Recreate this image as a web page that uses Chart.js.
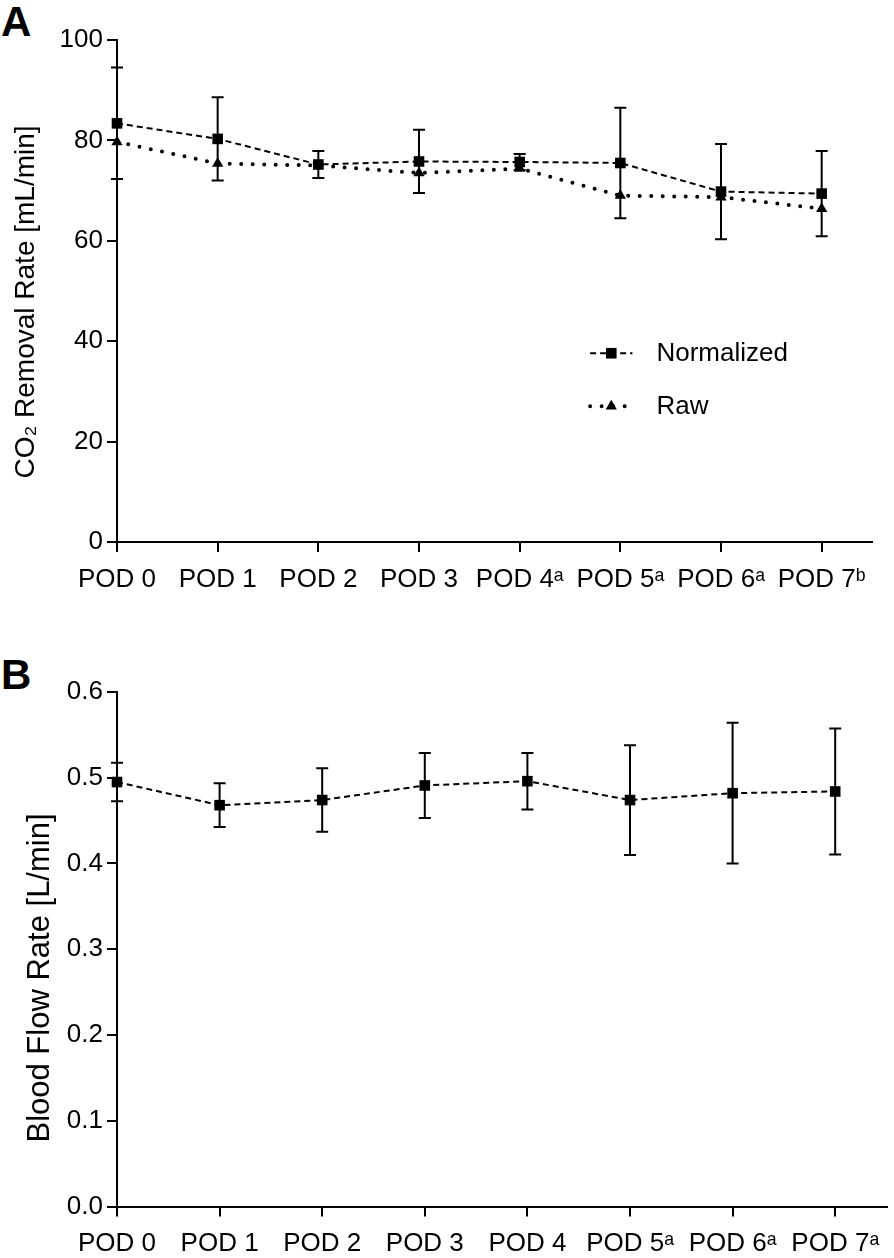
<!DOCTYPE html>
<html>
<head>
<meta charset="utf-8">
<script src="https://cdn.jsdelivr.net/npm/chart.js@4.4.1/dist/chart.umd.min.js"></script>
<style>
  html, body { margin: 0; padding: 0; background: #fff; }
  body { width: 894px; height: 1258px; position: relative; overflow: hidden; font-family: "Liberation Sans", Arial, sans-serif; }
  .panel { position: absolute; left: 0; }
  .letter { position: absolute; font-family: "Liberation Sans", Arial, sans-serif; font-weight: bold; font-size: 42px; line-height: 1; color: #000; }
</style>
</head>
<body>
<div class="letter" style="left:1px; top:1px;">A</div>
<div class="letter" style="left:1px; top:654px;">B</div>
<canvas id="chartA" class="panel" style="top:0px;" width="894" height="600"></canvas>
<canvas id="chartB" class="panel" style="top:630px;" width="894" height="628"></canvas>
<script>
// ---------- Data ----------
const categoriesA = ['POD 0', 'POD 1', 'POD 2', 'POD 3', 'POD 4\u1D43', 'POD 5\u1D43', 'POD 6\u1D43', 'POD 7\u1D47'];
const normalizedA = [83.4, 80.3, 75.2, 75.8, 75.7, 75.5, 69.8, 69.4];
const normalizedErrA = [11.1, 8.3, 2.7, 6.3, 1.6, 11.0, 9.5, 8.5];
const rawA = [79.7, 75.4, 75.0, 73.5, 74.4, 69.0, 68.7, 66.4];
const yTicksA = [0, 20, 40, 60, 80, 100];

const categoriesB = ['POD 0', 'POD 1', 'POD 2', 'POD 3', 'POD 4', 'POD 5\u1D43', 'POD 6\u1D43', 'POD 7\u1D43'];
const flowB = [0.495, 0.468, 0.474, 0.491, 0.496, 0.474, 0.482, 0.484];
const flowErrB = [0.0225, 0.0255, 0.037, 0.038, 0.033, 0.064, 0.082, 0.0735];
const yTicksB = [0.0, 0.1, 0.2, 0.3, 0.4, 0.5, 0.6];

// ---------- Styling ----------
const FONT = '"Liberation Sans", Arial, Helvetica, sans-serif';
const INK = '#000';

const toPoints = (vals) => vals.map((v, i) => ({ x: i, y: v }));

// Error bar plugin: draws vertical bars with caps from dataset errors via scales
const errorBarPlugin = {
  id: 'errorBars',
  beforeDatasetsDraw(chart) {
    const ctx = chart.ctx;
    const xs = chart.scales.x, ys = chart.scales.y;
    chart.data.datasets.forEach((ds) => {
      if (!ds.errors) return;
      ctx.save();
      ctx.strokeStyle = INK;
      ctx.lineWidth = 2;
      ctx.setLineDash([]);
      ds.data.forEach((p, i) => {
        const e = ds.errors[i];
        const px = xs.getPixelForValue(p.x);
        const yTop = ys.getPixelForValue(p.y + e);
        const yBot = ys.getPixelForValue(p.y - e);
        const cap = 6;
        ctx.beginPath();
        ctx.moveTo(px, yTop); ctx.lineTo(px, yBot);
        ctx.moveTo(px - cap, yTop); ctx.lineTo(px + cap, yTop);
        ctx.moveTo(px - cap, yBot); ctx.lineTo(px + cap, yBot);
        ctx.stroke();
      });
      ctx.restore();
    });
  }
};

// Rotated y-axis title drawn at a given baseline x and centre y
const yTitlePlugin = {
  id: 'yTitle',
  afterDraw(chart, args, opts) {
    if (!opts || !opts.text) return;
    const ctx = chart.ctx;
    ctx.save();
    ctx.translate(opts.x, opts.y);
    ctx.rotate(-Math.PI / 2);
    ctx.fillStyle = INK;
    ctx.font = opts.size + 'px ' + FONT;
    ctx.textAlign = 'center';
    ctx.textBaseline = 'alphabetic';
    ctx.fillText(opts.text, 0, 0);
    ctx.restore();
  }
};

// Custom in-plot legend (line sample + marker + text)
const legendPlugin = {
  id: 'inPlotLegend',
  afterDatasetsDraw(chart, args, opts) {
    if (!opts || !opts.items) return;
    const ctx = chart.ctx;
    const xs = chart.scales.x, ys = chart.scales.y;
    opts.items.forEach((it, k) => {
      const ds = chart.data.datasets[it.dataset];
      const x0 = xs.getPixelForValue(opts.x0);
      const x1 = xs.getPixelForValue(opts.x1);
      const y = ys.getPixelForValue(opts.y0) + k * opts.gap;
      ctx.save();
      ctx.strokeStyle = INK;
      ctx.lineWidth = ds.borderWidth;
      ctx.lineCap = ds.borderCapStyle || 'butt';
      ctx.setLineDash(ds.borderDash || []);
      ctx.beginPath();
      ctx.moveTo(x0, y); ctx.lineTo(x1, y);
      ctx.stroke();
      ctx.setLineDash([]);
      Chart.helpers.drawPoint(ctx, {
        pointStyle: ds.pointStyle, radius: ds.pointRadius, borderWidth: 0, rotation: 0
      }, (x0 + x1) / 2, y);
      ctx.fillStyle = INK;
      ctx.font = '26px ' + FONT;
      ctx.textBaseline = 'middle';
      ctx.textAlign = 'left';
      ctx.fillText(ds.label, x1 + 24, y + 1);
      ctx.restore();
    });
  }
};

function axisCommon() {
  return {
    border: { display: true, color: INK, width: 2 },
    grid: { display: true, drawOnChartArea: false, drawTicks: true, tickLength: 10, color: INK, lineWidth: 2, tickWidth: 2, tickColor: INK },
  };
}

function makeChart(id, cfg) {
  const xAxis = Object.assign(axisCommon(), {
    type: 'linear', min: 0, max: 7.5,
    afterBuildTicks: (s) => { s.ticks = cfg.categories.map((_, i) => ({ value: i })); },
    afterFit: (s) => { s.height = 50; },
    ticks: {
      autoSkip: false, maxRotation: 0, minRotation: 0, color: INK, padding: cfg.xPad,
      font: { family: FONT, size: 26 },
      callback: (v) => cfg.categories[v]
    }
  });
  const yAxis = Object.assign(axisCommon(), {
    type: 'linear', min: cfg.yTicks[0], max: cfg.yTicks[cfg.yTicks.length - 1],
    afterBuildTicks: (s) => { s.ticks = cfg.yTicks.map((v) => ({ value: v })); },
    afterFit: (s) => { s.width = 117; },
    ticks: {
      color: INK, padding: 4,
      font: { family: FONT, size: 26 },
      callback: (v) => cfg.yFmt(v)
    },
    title: { display: false }
  });
  return new Chart(document.getElementById(id), {
    type: 'line',
    data: { datasets: cfg.datasets },
    options: {
      responsive: false, animation: false, devicePixelRatio: 1,
      layout: { padding: cfg.padding },
      scales: { x: xAxis, y: yAxis },
      plugins: {
        legend: { display: false }, tooltip: { enabled: false },
        inPlotLegend: cfg.legend || {},
        yTitle: cfg.yTitle
      },
      elements: { line: { tension: 0 } }
    },
    plugins: [errorBarPlugin, legendPlugin, yTitlePlugin]
  });
}

// Panel A
makeChart('chartA', {
  categories: categoriesA,
  yTicks: yTicksA,
  yFmt: (v) => String(v),
  yTitle: { text: 'CO\u2082 Removal Rate [mL/min]', x: 34, y: 302, size: 28 },
  xPad: 12,
  padding: { top: 40, right: 22, bottom: 8, left: 0 },
  datasets: [
    {
      label: 'Normalized', data: toPoints(normalizedA), errors: normalizedErrA,
      borderColor: INK, backgroundColor: INK, borderWidth: 2, borderDash: [6, 4],
      pointStyle: 'rect', pointRadius: 7.5, pointBorderWidth: 0, pointBackgroundColor: INK, clip: false
    },
    {
      label: 'Raw', data: toPoints(rawA),
      borderColor: INK, backgroundColor: INK, borderWidth: 4, borderDash: [0, 11.5], borderCapStyle: 'round',
      pointStyle: 'triangle', pointRadius: 6.5, pointBorderWidth: 0, pointBackgroundColor: INK, clip: false
    }
  ],
  legend: { items: [{ dataset: 0 }, { dataset: 1 }], x0: 4.7, x1: 5.12, y0: 37.6, gap: 53 }
});

// Panel B
makeChart('chartB', {
  categories: categoriesB,
  yTicks: yTicksB,
  yFmt: (v) => v.toFixed(1),
  yTitle: { text: 'Blood Flow Rate [L/min]', x: 49, y: 348, size: 31 },
  xPad: 12,
  padding: { top: 62, right: 4, bottom: 1.5, left: 0 },
  datasets: [
    {
      label: 'Blood flow', data: toPoints(flowB), errors: flowErrB,
      borderColor: INK, backgroundColor: INK, borderWidth: 2, borderDash: [6, 4],
      pointStyle: 'rect', pointRadius: 7.5, pointBorderWidth: 0, pointBackgroundColor: INK, clip: false
    }
  ]
});
</script>
</body>
</html>
